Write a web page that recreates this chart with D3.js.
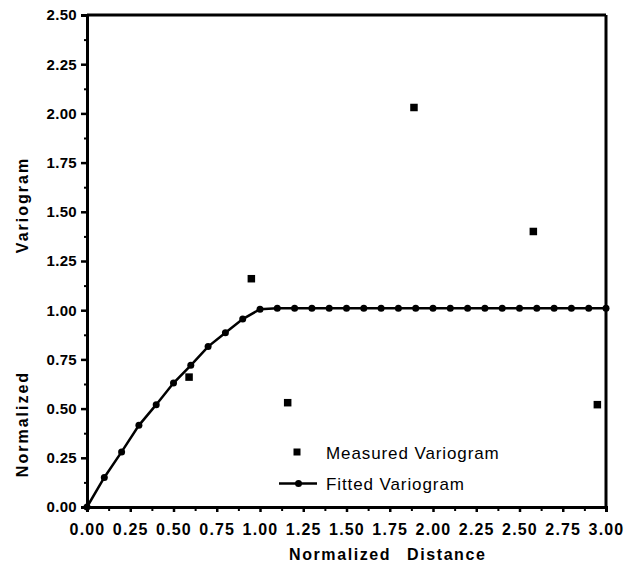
<!DOCTYPE html>
<html>
<head>
<meta charset="utf-8">
<script src="https://cdn.jsdelivr.net/npm/d3@7"></script>
<style>
  html, body { margin: 0; padding: 0; background: #fff; }
  svg { display: block; }
  text { font-family: "Liberation Sans", Arial, Helvetica, sans-serif; fill: #000; }
</style>
</head>
<body>
<svg id="chart" width="626" height="568"></svg>
<script>
// ---- data ----
const fittedX = [0.0,0.1,0.2,0.3,0.4,0.5,0.6,0.7,0.8,0.9,1.0,1.1,1.2,1.3,1.4,1.5,1.6,1.7,1.8,1.9,2.0,2.1,2.2,2.3,2.4,2.5,2.6,2.7,2.8,2.9,3.0];
const fittedY = [0.0,0.15,0.28,0.415,0.52,0.63,0.72,0.815,0.885,0.955,1.005,1.01,1.01,1.01,1.01,1.01,1.01,1.01,1.01,1.01,1.01,1.01,1.01,1.01,1.01,1.01,1.01,1.01,1.01,1.01,1.01];
const measuredX = [0.59, 0.95, 1.16, 1.89, 2.58, 2.95];
const measuredY = [0.66, 1.16, 0.53, 2.03, 1.40, 0.52];
const xTicks = [0,0.25,0.5,0.75,1,1.25,1.5,1.75,2,2.25,2.5,2.75,3];
const yTicks = [0,0.25,0.5,0.75,1,1.25,1.5,1.75,2,2.25,2.5];
const legendLabels = ["Measured Variogram", "Fitted Variogram"];
const xTitle = ["Normalized", "Distance"];
const yTitle = ["Normalized", "Variogram"];

// ---- layout ----
const svg = d3.select("#chart");
const L = 87, R = 606, T = 15, B = 507;
const x = d3.scaleLinear().domain([0, 3]).range([L, R]);
const y = d3.scaleLinear().domain([0, 2.5]).range([B, T]);
const fmt = d3.format(".2f");

// minor ticks
const xMinor = d3.range(0, 24).map(i => i * 0.125 + 0.125).filter(v => v < 3 && (v * 8) % 2 === 1);
const yMinor = d3.range(0, 20).map(i => i * 0.125 + 0.125).filter(v => v < 2.5 && (v * 8) % 2 === 1);

// X axis
const xAxis = svg.append("g").attr("transform", `translate(0,${B})`)
  .call(d3.axisBottom(x).tickValues(xTicks).tickFormat(fmt).tickSize(5).tickPadding(12));
xAxis.select(".domain").attr("stroke-width", 3);
xAxis.selectAll(".tick line").attr("stroke-width", 2.5);
xAxis.selectAll(".tick text").style("font-size", "16px").style("font-weight", "bold")
  .style("letter-spacing", "1.2px").style("font-family", "'Liberation Sans', Arial, sans-serif");
svg.append("g").attr("transform", `translate(0,${B})`)
  .call(d3.axisBottom(x).tickValues(xMinor).tickFormat("").tickSize(4))
  .call(g => g.select(".domain").remove())
  .selectAll(".tick line").attr("stroke-width", 2);

// Y axis
const yAxis = svg.append("g").attr("transform", `translate(${L},0)`)
  .call(d3.axisLeft(y).tickValues(yTicks).tickFormat(fmt).tickSize(6).tickPadding(4));
yAxis.select(".domain").attr("stroke-width", 3);
yAxis.selectAll(".tick line").attr("stroke-width", 2.5);
yAxis.selectAll(".tick text").style("font-size", "15px").style("font-weight", "bold")
  .style("letter-spacing", "0.3px").style("font-family", "'Liberation Sans', Arial, sans-serif");
svg.append("g").attr("transform", `translate(${L},0)`)
  .call(d3.axisLeft(y).tickValues(yMinor).tickFormat("").tickSize(3))
  .call(g => g.select(".domain").remove())
  .selectAll(".tick line").attr("stroke-width", 2);

// frame top and right
svg.append("line").attr("x1", L).attr("x2", R).attr("y1", T).attr("y2", T)
  .attr("stroke", "#000").attr("stroke-width", 3);
svg.append("line").attr("x1", R).attr("x2", R).attr("y1", T).attr("y2", B)
  .attr("stroke", "#000").attr("stroke-width", 3);

// fitted line
const fitted = fittedX.map((v, i) => [v, fittedY[i]]);
svg.append("path").datum(fitted)
  .attr("fill", "none").attr("stroke", "#000").attr("stroke-width", 2.5)
  .attr("d", d3.line().x(d => x(d[0])).y(d => y(d[1])));
svg.append("g").selectAll("circle").data(fitted).join("circle")
  .attr("cx", d => x(d[0])).attr("cy", d => y(d[1])).attr("r", 3.5).attr("fill", "#000");

// measured squares
const measured = measuredX.map((v, i) => [v, measuredY[i]]);
const sq = 7.5;
svg.append("g").selectAll("rect").data(measured).join("rect")
  .attr("x", d => x(d[0]) - sq / 2).attr("y", d => y(d[1]) - sq / 2)
  .attr("width", sq).attr("height", sq).attr("fill", "#000");

// legend
const lg = svg.append("g");
lg.append("rect").attr("x", 297 - 3.5).attr("y", 452 - 3.5).attr("width", 7).attr("height", 7).attr("fill", "#000");
lg.append("line").attr("x1", 279).attr("x2", 317).attr("y1", 483.5).attr("y2", 483.5)
  .attr("stroke", "#000").attr("stroke-width", 2.5);
lg.append("circle").attr("cx", 298.5).attr("cy", 483.5).attr("r", 3.5).attr("fill", "#000");
lg.selectAll("text").data(legendLabels).join("text")
  .attr("x", 326).attr("y", (d, i) => 453 + i * 31).attr("dy", "0.35em")
  .style("font-size", "17px").style("letter-spacing", "0.9px")
  .text(d => d);

// axis titles
svg.append("text").attr("x", 289).attr("y", 554).attr("dy", "0.35em")
  .style("font-size", "16px").style("font-weight", "bold").style("letter-spacing", "1.6px")
  .text(xTitle[0]);
svg.append("text").attr("x", 407).attr("y", 554).attr("dy", "0.35em")
  .style("font-size", "16px").style("font-weight", "bold").style("letter-spacing", "1.6px")
  .text(xTitle[1]);
svg.append("text").attr("transform", "translate(22,424) rotate(-90)").attr("dy", "0.35em")
  .attr("text-anchor", "middle")
  .style("font-size", "16px").style("font-weight", "bold").style("letter-spacing", "2px")
  .text(yTitle[0]);
svg.append("text").attr("transform", "translate(22,205) rotate(-90)").attr("dy", "0.35em")
  .attr("text-anchor", "middle")
  .style("font-size", "16px").style("font-weight", "bold").style("letter-spacing", "2px")
  .text(yTitle[1]);
</script>
</body>
</html>
